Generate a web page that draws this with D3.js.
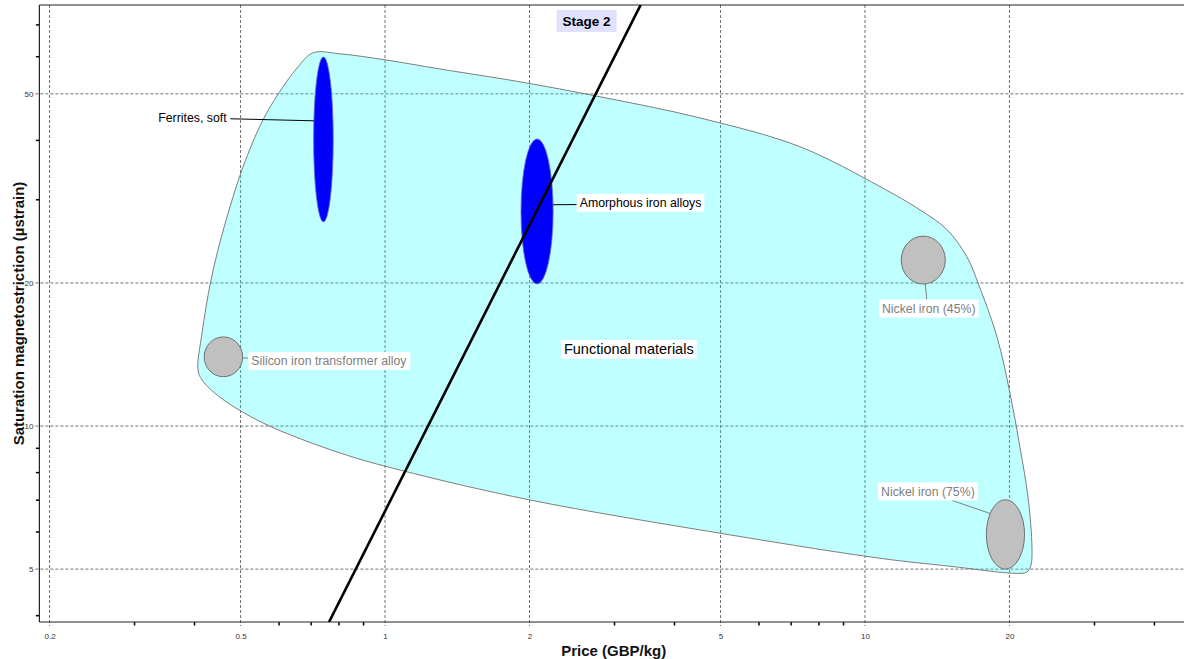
<!DOCTYPE html>
<html><head><meta charset="utf-8">
<script src="https://cdn.jsdelivr.net/npm/d3@7"></script>
<style>
html,body{margin:0;padding:0;background:#fff;}
svg{display:block;font-family:"Liberation Sans",Arial,Helvetica,sans-serif;}
</style></head><body>
<svg id="chart" width="1184" height="659"></svg>
<script>
// ---- Material property ranges -------------------------------------------
const materials  = ["Ferrites, soft", "Amorphous iron alloys", "Silicon iron transformer alloy", "Nickel iron (45%)", "Nickel iron (75%)"];
const priceLow   = [0.71, 1.92, 0.42, 11.9, 17.9];   // GBP/kg
const priceHigh  = [0.78, 2.24, 0.505, 14.7, 21.5];
const lambdaLow  = [26.9, 19.9, 12.7, 19.9, 5.0];    // µstrain
const lambdaHigh = [59.8, 40.2, 15.4, 25.1, 7.0];
const selected   = [true, true, false, false, false];

// ---- "Functional materials" family envelope (price, magnetostriction) -----
const envelopePrice  = [0.708, 0.806, 1.0, 1.302, 1.911, 2.805, 4.53, 7.32, 10.75, 13.02, 14.82, 16.31, 17.2, 18.84, 20.05, 21.03, 21.86, 22.28, 22.17, 21.75, 20.54, 15.04, 10.75, 4.99, 2.005, 1.075, 0.806, 0.557, 0.453, 0.4157, 0.4077, 0.4157, 0.434, 0.462, 0.506, 0.557, 0.601, 0.656];
const envelopeLambda = [61.0, 60.7, 58.96, 56.4, 53.0, 49.3, 44.5, 38.7, 31.9, 28.5, 25.9, 22.7, 20.0, 15.4, 11.73, 9.03, 7.09, 5.56, 5.10, 4.93, 4.90, 5.07, 5.27, 5.95, 6.99, 8.08, 8.777, 10.15, 11.5, 12.5, 13.12, 15.7, 20.3, 26.2, 35.1, 44.1, 50.2, 56.7];
const envelopeName = "Functional materials";
const envelopeLabelAt = [3.22, 14.5];

// ---- Stage 2 selection line (slope 2 on log-log axes) ---------------------
const stageLinePrice  = [0.75, 3.45];
const stageLineLambda = [3.724, 78.8];
const stageLabel = "Stage 2";
const stageLabelPrice = 2.63;

// ---- Axes ------------------------------------------------------------------
const xMajor = [0.2, 0.5, 1, 2, 5, 10, 20];
const xMinor = [0.3, 0.4, 0.6, 0.7, 0.8, 0.9, 3, 4, 6, 7, 8, 9, 30, 40];
const yMajor = [5, 10, 20, 50];
const yMinor = [4, 6, 7, 8, 9, 30, 40, 60, 70];
const xTitle = "Price (GBP/kg)";
const yTitle = "Saturation magnetostriction (µstrain)";

// ---- Label placement (pixel offsets from bubble centre) --------------------
const labelDx     = [-131, 103.5, 105.5, 5.5, -77.5];
const labelDy     = [-21.5, -8.7, 4, 48.5, -43];
const leaderAngle = [-167, -5.3, 3, 84.7, -143];       // point on bubble outline, degrees
const leaderBoxFx = [1, 0, 0, 0.48, 0.74];               // attach point on label box
const leaderBoxFy = [0.55, 0.6, 0.35, 0, 1];

const pLeft = 39.4, pRight = 1188, pTop = 5, pBottom = 622;
const svg = d3.select("#chart");
svg.append("rect").attr("width", 1184).attr("height", 659).attr("fill", "#fff");

const x = d3.scaleLog().domain([0.1905, 47.1]).range([pLeft, pRight]);
const y = d3.scaleLog().domain([3.87, 76.9]).range([pBottom, pTop]);

svg.append("defs").append("clipPath").attr("id", "plotClip")
  .append("rect").attr("x", pLeft).attr("y", pTop).attr("width", pRight - pLeft).attr("height", pBottom - pTop);

// gridlines
const grid = svg.append("g").attr("stroke", "#707070").attr("stroke-width", 1).attr("stroke-dasharray", "3,2");
grid.selectAll("line.vx").data(xMajor).join("line")
  .attr("x1", d => x(d)).attr("x2", d => x(d)).attr("y1", pTop).attr("y2", pBottom + 4);
grid.selectAll("line.hy").data(yMajor).join("line")
  .attr("y1", d => y(d)).attr("y2", d => y(d)).attr("x1", pLeft - 4).attr("x2", pRight);

const plot = svg.append("g").attr("clip-path", "url(#plotClip)");

// envelope
const envPts = envelopePrice.map((p, i) => [x(p), y(envelopeLambda[i])]);
plot.append("path")
  .attr("d", d3.line().curve(d3.curveCatmullRomClosed.alpha(0.5))(envPts))
  .attr("fill", "#00ffff").attr("fill-opacity", 0.25)
  .attr("stroke", "#7d7d7d").attr("stroke-width", 1);

// material bubbles
const bubbles = materials.map((name, i) => {
  const x0 = x(priceLow[i]), x1 = x(priceHigh[i]);
  const y0 = y(lambdaHigh[i]), y1 = y(lambdaLow[i]);
  return {name, i, cx: (x0 + x1) / 2, cy: (y0 + y1) / 2, rx: (x1 - x0) / 2, ry: (y1 - y0) / 2, sel: selected[i]};
});
plot.selectAll("ellipse.mat").data(bubbles).join("ellipse")
  .attr("cx", d => d.cx).attr("cy", d => d.cy).attr("rx", d => d.rx).attr("ry", d => d.ry)
  .attr("fill", d => d.sel ? "#0000ff" : "#c0c0c0")
  .attr("stroke", d => d.sel ? "#6a6ad0" : "#707070")
  .attr("stroke-width", d => d.sel ? 0.8 : 1);

// selection line
plot.append("line")
  .attr("x1", x(stageLinePrice[0])).attr("y1", y(stageLineLambda[0]))
  .attr("x2", x(stageLinePrice[1])).attr("y2", y(stageLineLambda[1]))
  .attr("stroke", "#000").attr("stroke-width", 2.6);

// labels with leaders
const labelLayer = svg.append("g");
bubbles.forEach(b => {
  const i = b.i;
  const tx = b.cx + labelDx[i], ty = b.cy + labelDy[i];
  const g = labelLayer.append("g");
  const t = g.append("text").attr("x", tx).attr("y", ty).attr("dy", "0.35em")
    .attr("text-anchor", "middle").attr("font-size", 12.3)
    .attr("fill", b.sel ? "#000" : "#808080").text(b.name);
  const bb = t.node().getBBox();
  const bx = bb.x - 3, by = ty - 9, bw = bb.width + 6, bh = 18;
  g.insert("rect", "text").attr("x", bx).attr("y", by).attr("width", bw).attr("height", bh).attr("fill", "#fff");
  const a = leaderAngle[i] * Math.PI / 180;
  const ex = b.cx + b.rx * Math.cos(a), ey = b.cy + b.ry * Math.sin(a);
  labelLayer.insert("line", ":first-child")
    .attr("x1", ex).attr("y1", ey)
    .attr("x2", bx + bw * leaderBoxFx[i]).attr("y2", by + bh * leaderBoxFy[i])
    .attr("stroke", b.sel ? "#000" : "#808080").attr("stroke-width", 1);
});

// envelope name
{
  const g = svg.append("g");
  const t = g.append("text").attr("x", x(envelopeLabelAt[0])).attr("y", y(envelopeLabelAt[1])).attr("dy", "0.35em")
    .attr("text-anchor", "middle").attr("font-size", 14.5).attr("fill", "#000").text(envelopeName);
  const bb = t.node().getBBox();
  g.insert("rect", "text").attr("x", bb.x - 3).attr("y", y(envelopeLabelAt[1]) - 9.5)
    .attr("width", bb.width + 6).attr("height", 19).attr("fill", "#fff");
}

// stage label
{
  const g = svg.append("g");
  const cx = x(stageLabelPrice), cy = pTop + 16;
  const t = g.append("text").attr("x", cx).attr("y", cy).attr("dy", "0.35em")
    .attr("text-anchor", "middle").attr("font-size", 13.5).attr("font-weight", "bold").attr("fill", "#000").text(stageLabel);
  const bb = t.node().getBBox();
  g.insert("rect", "text").attr("x", bb.x - 6).attr("y", cy - 11)
    .attr("width", bb.width + 12).attr("height", 22).attr("fill", "#e0e0ff");
}

// axes
const axX = svg.append("g").attr("transform", `translate(0,${pBottom})`)
  .call(d3.axisBottom(x).tickValues(xMajor).tickSize(0).tickPadding(11).tickFormat(d => String(d)));
axX.selectAll("text").attr("font-size", 8).attr("fill", "#333").attr("font-family", null);
axX.select(".domain").remove();
const axXm = svg.append("g").attr("transform", `translate(0,${pBottom})`)
  .call(d3.axisBottom(x).tickValues(xMinor).tickSize(3.5).tickFormat(""));
axXm.select(".domain").remove();
axXm.selectAll("line").attr("stroke", "#000").attr("stroke-width", 1.5);

const axY = svg.append("g").attr("transform", `translate(${pLeft},0)`)
  .call(d3.axisLeft(y).tickValues(yMajor).tickSize(0).tickPadding(6).tickFormat(d => String(d)));
axY.selectAll("text").attr("font-size", 8).attr("fill", "#333").attr("font-family", null);
axY.select(".domain").remove();
const axYm = svg.append("g").attr("transform", `translate(${pLeft},0)`)
  .call(d3.axisLeft(y).tickValues(yMinor).tickSize(3.5).tickFormat(""));
axYm.select(".domain").remove();
axYm.selectAll("line").attr("stroke", "#000").attr("stroke-width", 1.5);

// frame
const frame = svg.append("g").attr("stroke", "#222").attr("stroke-width", 1.2).attr("fill", "none");
frame.append("line").attr("x1", pLeft).attr("x2", pLeft).attr("y1", pTop).attr("y2", pBottom);
frame.append("line").attr("x1", pLeft).attr("x2", pRight).attr("y1", pBottom).attr("y2", pBottom);
frame.append("line").attr("x1", pLeft).attr("x2", pRight).attr("y1", pTop).attr("y2", pTop);

// axis titles
svg.append("text").attr("x", (pLeft + pRight) / 2).attr("y", 655.5).attr("text-anchor", "middle")
  .attr("font-size", 15).attr("font-weight", "bold").attr("fill", "#111").text(xTitle);
svg.append("text").attr("transform", `translate(23.5,${(pTop + pBottom) / 2}) rotate(-90)`).attr("text-anchor", "middle")
  .attr("font-size", 15).attr("font-weight", "bold").attr("fill", "#111").text(yTitle);
</script>
</body></html>
